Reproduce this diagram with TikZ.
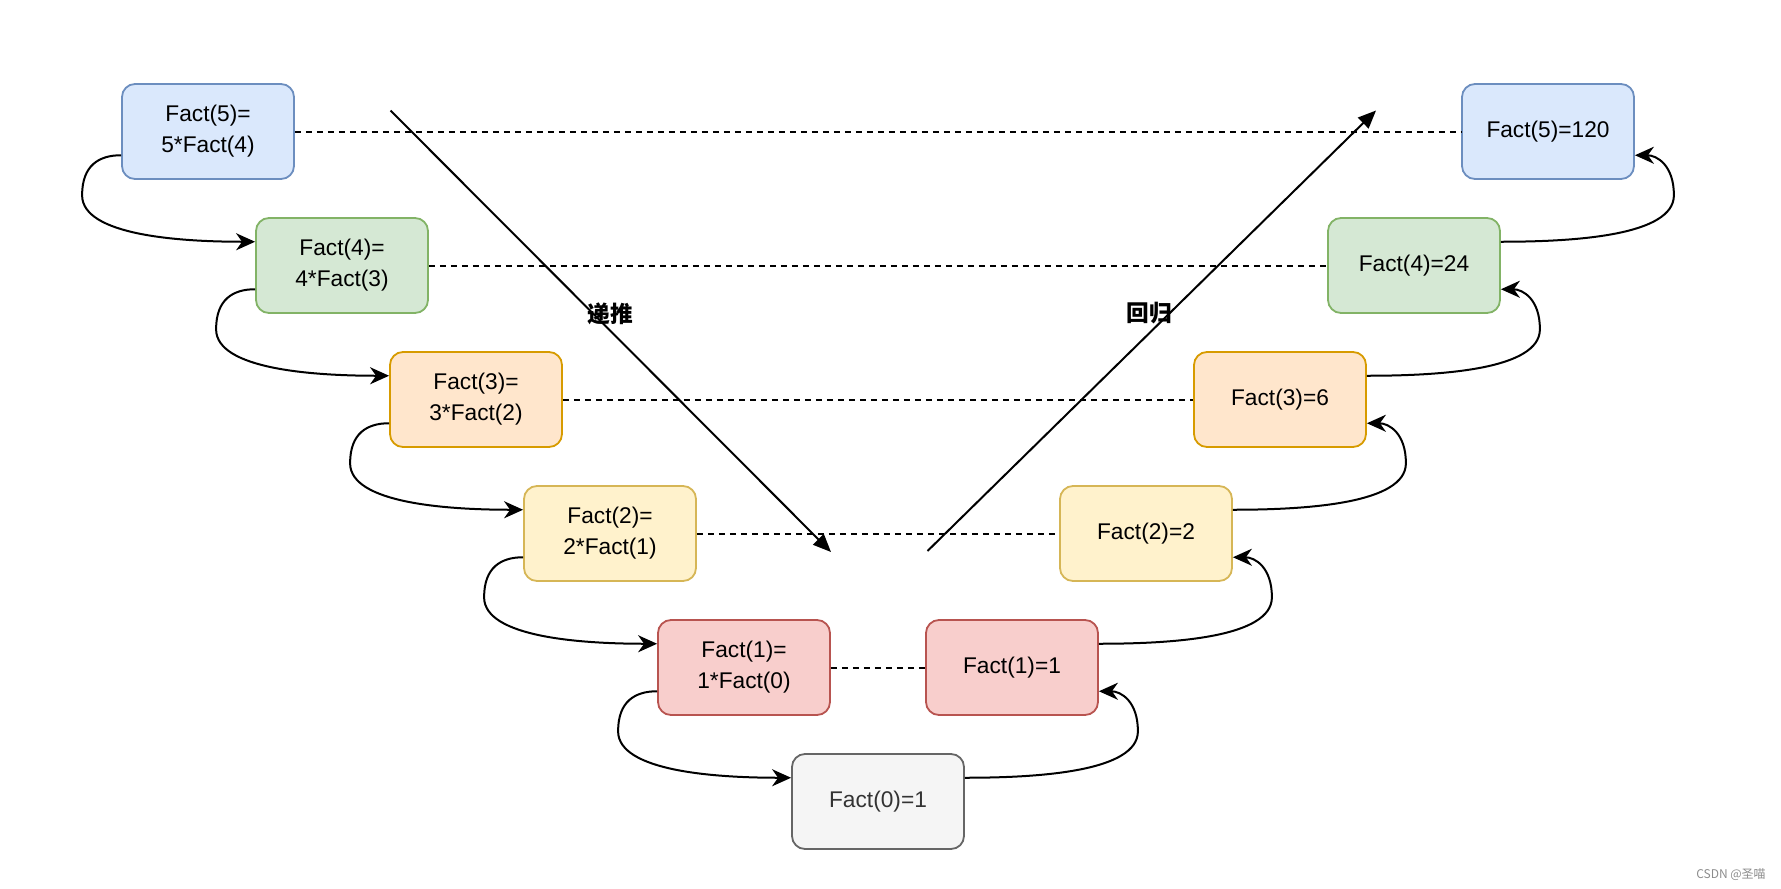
\documentclass[tikz,border=0pt]{standalone}
\usepackage{fontspec}
\setmainfont{Liberation Sans}
\newfontfamily\cjk{Noto Sans CJK SC}
\usetikzlibrary{calc,arrows.meta}
\definecolor{bfill}{HTML}{DAE8FC}\definecolor{bline}{HTML}{6C8EBF}
\definecolor{gfill}{HTML}{D5E8D4}\definecolor{gline}{HTML}{82B366}
\definecolor{ofill}{HTML}{FFE6CC}\definecolor{oline}{HTML}{D79B00}
\definecolor{yfill}{HTML}{FFF2CC}\definecolor{yline}{HTML}{D6B656}
\definecolor{rfill}{HTML}{F8CECC}\definecolor{rline}{HTML}{B85450}
\definecolor{kfill}{HTML}{F5F5F5}\definecolor{kline}{HTML}{666666}
\definecolor{ktext}{HTML}{333333}
\tikzset{
  box/.style={rounded corners=13pt, minimum width=172pt, minimum height=95pt,
    line width=1.8pt, align=center, inner sep=0pt,
    font=\fontsize{22.7}{31}\selectfont},
  blue/.style={box, fill=bfill, draw=bline},
  green/.style={box, fill=gfill, draw=gline},
  orange/.style={box, fill=ofill, draw=oline},
  yellow/.style={box, fill=yfill, draw=yline},
  red/.style={box, fill=rfill, draw=rline},
  grey/.style={box, fill=kfill, draw=kline, text=ktext},
  conn/.style={line width=2pt, -{Stealth[length=19pt,width=17pt,inset=6pt]}},
  dashline/.style={line width=2pt, dash pattern=on 6pt off 5pt},
  bigarrow/.style={line width=2pt, -{Triangle[length=18pt,width=15pt]}},
  lbl/.style={font=\cjk\bfseries\fontsize{22.7}{27}\selectfont}
}
\begin{document}
\begin{tikzpicture}[x=1pt,y=-1pt]
\useasboundingbox (0,0) rectangle (1781,889);
% left column
\node[blue]   (L5) at (208,131.5) {Fact(5)=\\5*Fact(4)};
\node[green]  (L4) at (342,265.5) {Fact(4)=\\4*Fact(3)};
\node[orange] (L3) at (476,399.5) {Fact(3)=\\3*Fact(2)};
\node[yellow] (L2) at (610,533.5) {Fact(2)=\\2*Fact(1)};
\node[red]    (L1) at (744,667.5) {Fact(1)=\\1*Fact(0)};
\node[grey]   (F0) at (878,801.5) {Fact(0)=1};
% right column
\node[red]    (R1) at (1012,667.5) {Fact(1)=1};
\node[yellow] (R2) at (1146,533.5) {Fact(2)=2};
\node[orange] (R3) at (1280,399.5) {Fact(3)=6};
\node[green]  (R4) at (1414,265.5) {Fact(4)=24};
\node[blue]   (R5) at (1548,131.5) {Fact(5)=120};
% dashed links
\draw[dashline] (L5.east) -- (R5.west);
\draw[dashline] (L4.east) -- (R4.west);
\draw[dashline] (L3.east) -- (R3.west);
\draw[dashline] (L2.east) -- (R2.west);
\draw[dashline] (L1.east) -- (R1.west);
% left curved arrows (downward)
\foreach \a/\b in {L5/L4, L4/L3, L3/L2, L2/L1, L1/F0}{
  \draw[conn] ($(\a.west)+(0,23.75)$) .. controls +(-22,0) and +(0,-30) .. ++(-39,40)
     .. controls +(0,40) and +(-76,0) .. ($(\b.west)+(0,-23.75)$);
}
% right curved arrows (upward)
\foreach \a/\b in {F0/R1, R1/R2, R2/R3, R3/R4, R4/R5}{
  \draw[conn] ($(\a.east)+(0,-23.75)$) .. controls +(76,0) and +(0,40) .. ($(\b.east)+(39,63.75)$)
     .. controls +(0,-30) and +(22,0) .. ($(\b.east)+(0,23.75)$);
}
% big arrows
\coordinate (d1) at (390.5,110.5);
\coordinate (d2) at (831,552);
\coordinate (u1) at (927.5,551);
\coordinate (u2) at (1376,110.5);
\draw[bigarrow] (d1) -- (d2);
\draw[bigarrow] (u1) -- (u2);
\node[lbl] (t1) at (610,313.5) {递推};
\node[lbl] (t2) at (1149.5,313.5) {回归};
\node[font=\cjk\fontsize{12}{14}\selectfont, text=black!45] (wm) at (1731,875) {CSDN @圣喵};
\end{tikzpicture}
\end{document}
